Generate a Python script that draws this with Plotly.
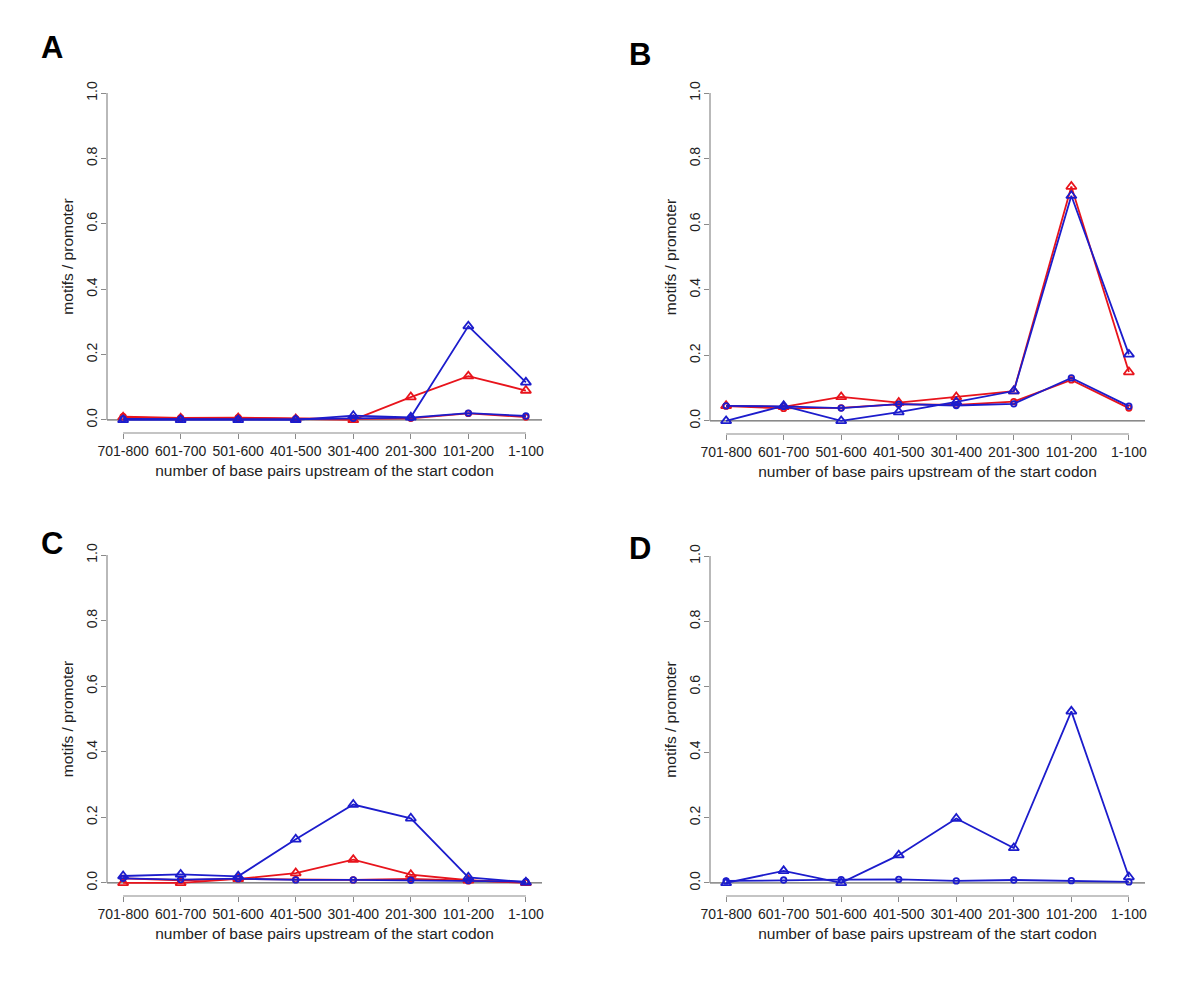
import plotly.graph_objects as go

# kategorie na osi x (vzdialenost od start kodonu)
kategorie = ["701-800", "601-700", "501-600", "401-500", "301-400", "201-300", "101-200", "1-100"]
poz = [1, 2, 3, 4, 5, 6, 7, 8]

# panel A
a_red_tri = [0.008, 0.005, 0.006, 0.003, 0.0, 0.07, 0.134, 0.09]
a_red_cir = [0.010, 0.006, 0.007, 0.004, 0.003, 0.005, 0.020, 0.009]
a_blue_tri = [0.0, 0.0, 0.0, 0.0, 0.013, 0.008, 0.287, 0.115]
a_blue_cir = [0.003, 0.003, 0.002, 0.002, 0.005, 0.007, 0.021, 0.012]

# panel B
b_red_tri = [0.046, 0.043, 0.073, 0.056, 0.073, 0.091, 0.715, 0.149]
b_red_cir = [0.045, 0.038, 0.040, 0.051, 0.049, 0.059, 0.125, 0.039]
b_blue_tri = [0.0, 0.046, 0.0, 0.027, 0.058, 0.091, 0.687, 0.203]
b_blue_cir = [0.046, 0.044, 0.039, 0.051, 0.047, 0.052, 0.131, 0.045]

# panel C
c_red_tri = [0.0, 0.0, 0.012, 0.030, 0.071, 0.025, 0.008, 0.0]
c_red_cir = [0.014, 0.008, 0.012, 0.010, 0.009, 0.012, 0.006, 0.002]
c_blue_tri = [0.021, 0.026, 0.020, 0.133, 0.239, 0.197, 0.017, 0.002]
c_blue_cir = [0.014, 0.010, 0.013, 0.009, 0.009, 0.008, 0.007, 0.004]

# panel D (cervene nie su vidno)
d_blue_tri = [0.0, 0.037, 0.0, 0.085, 0.197, 0.107, 0.525, 0.018]
d_blue_cir = [0.006, 0.009, 0.010, 0.011, 0.006, 0.009, 0.007, 0.003]

panely = [
    ("A", a_red_tri, a_red_cir, a_blue_tri, a_blue_cir),
    ("B", b_red_tri, b_red_cir, b_blue_tri, b_blue_cir),
    ("C", c_red_tri, c_red_cir, c_blue_tri, c_blue_cir),
    ("D", None, None, d_blue_tri, d_blue_cir),
]

W, H = 1200, 985
OFF = 8  # okraj stranky v prehliadaci
# oblasti grafov v pixeloch obrazovky (x0, x1, y0, y1) odhora
oblasti = [(107, 542, 80, 433), (710, 1145, 80, 434), (107, 542, 542, 896), (710, 1145, 543, 896)]
pismena = [(52, 47), (640, 55), (52, 543), (640, 548)]

RED = "#e8141c"
BLUE = "#1c1ccc"
OS = "#8a8a8a"
TXT = "#222222"
FONT = "Liberation Sans, Arial, sans-serif"

fig = go.Figure()
layout = {}
shapes = []
annot = []

for i, (meno, rt, rc, bt, bc) in enumerate(panely):
    n = "" if i == 0 else str(i + 1)
    xa, ya = "x" + n, "y" + n
    x0, x1, y0, y1 = [v - OFF for v in oblasti[i]]

    for vals, col, sym, size in [(rt, RED, "triangle-up-open", 9), (rc, RED, "circle-open", 5.5),
                                 (bt, BLUE, "triangle-up-open", 9), (bc, BLUE, "circle-open", 5.5)]:
        if vals is None:
            continue
        fig.add_trace(go.Scatter(
            x=poz, y=vals, xaxis=xa, yaxis=ya, mode="lines+markers",
            line=dict(color=col, width=1.8),
            marker=dict(symbol=sym, size=size, color=col, line=dict(color=col, width=1.8)),
            showlegend=False, hoverinfo="skip",
        ))

    layout["xaxis" + n] = dict(
        domain=[x0 / W, x1 / W], range=[0.72, 8.28], anchor=ya, automargin=False,
        tickvals=poz, ticktext=kategorie, ticks="outside", ticklen=5, tickcolor=OS, tickwidth=1,
        showgrid=False, zeroline=False, showline=False,
        tickfont=dict(family=FONT, size=14, color=TXT),
        title=dict(text="number of base pairs upstream of the start codon",
                   font=dict(family=FONT, size=15.5, color=TXT), standoff=7),
    )
    layout["yaxis" + n] = dict(
        domain=[1 - y1 / H, 1 - y0 / H], range=[-0.04, 1.04], anchor=xa, automargin=False,
        tickvals=[0, 0.2, 0.4, 0.6, 0.8, 1.0], ticktext=["0.0", "0.2", "0.4", "0.6", "0.8", "1.0"],
        tickangle=-90, ticks="outside", ticklen=5, tickcolor=OS, tickwidth=1, ticklabelstandoff=-2,
        showgrid=False, zeroline=False, showline=False,
        tickfont=dict(family=FONT, size=14, color=TXT),
        title=dict(text="motifs / promoter", font=dict(family=FONT, size=15.5, color=TXT), standoff=6),
    )

    # osi ako v R - ciara len od prveho po posledny tick
    shapes.append(dict(type="line", xref=xa, yref=ya + " domain", x0=1, x1=8, y0=0, y1=0,
                       line=dict(color=OS, width=1.2)))
    shapes.append(dict(type="line", xref=xa + " domain", yref=ya, x0=0, x1=0, y0=0, y1=1,
                       line=dict(color=OS, width=1.2)))
    # abline(h=0)
    shapes.append(dict(type="line", xref=xa + " domain", yref=ya, x0=0, x1=1, y0=0, y1=0,
                       line=dict(color="#444444", width=1), layer="below"))

    px_, py_ = pismena[i]
    annot.append(dict(text="<b>" + meno + "</b>", x=(px_ - OFF) / W, y=1 - (py_ - OFF) / H,
                      xref="paper", yref="paper",
                      showarrow=False, font=dict(family=FONT, size=31, color="black"),
                      xanchor="center", yanchor="middle"))

fig.update_layout(
    **layout,
    shapes=shapes,
    annotations=annot,
    width=W, height=H,
    margin=dict(l=0, r=0, t=0, b=0),
    plot_bgcolor="white", paper_bgcolor="white",
)

fig.write_html("out.html")
